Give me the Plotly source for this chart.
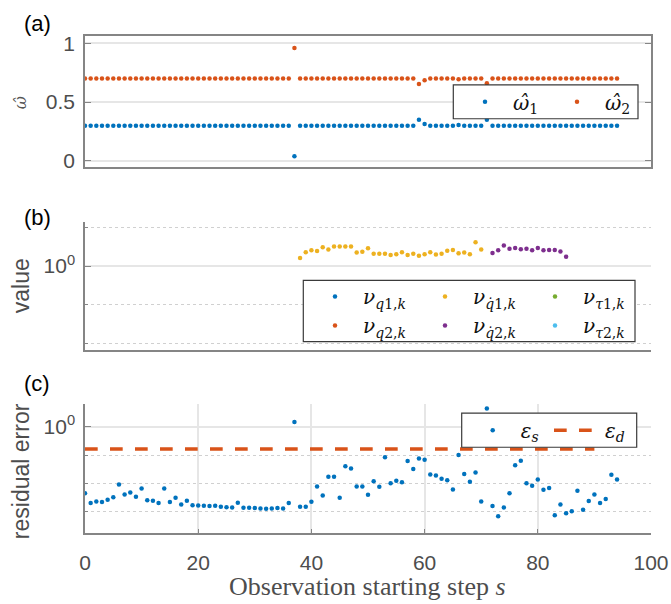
import plotly.graph_objects as go

# ---------------- data ----------------
steps = list(range(95))

omega1 = [0.30, 0.30, 0.30, 0.30, 0.30, 0.30, 0.30, 0.30, 0.30, 0.30,
          0.30, 0.30, 0.30, 0.30, 0.30, 0.30, 0.30, 0.30, 0.30, 0.30,
          0.30, 0.30, 0.30, 0.30, 0.30, 0.30, 0.30, 0.30, 0.30, 0.30,
          0.30, 0.30, 0.30, 0.30, 0.30, 0.30, 0.30, 0.04, 0.30, 0.30,
          0.30, 0.30, 0.30, 0.30, 0.30, 0.30, 0.30, 0.30, 0.30, 0.30,
          0.30, 0.30, 0.30, 0.30, 0.30, 0.30, 0.30, 0.30, 0.30, 0.35,
          0.315, 0.30, 0.30, 0.30, 0.30, 0.30, 0.305, 0.30, 0.30, 0.30,
          0.30, 0.35, 0.30, 0.30, 0.30, 0.30, 0.30, 0.30, 0.30, 0.30,
          0.30, 0.30, 0.30, 0.30, 0.30, 0.30, 0.30, 0.30, 0.30, 0.30,
          0.30, 0.30, 0.30, 0.30, 0.30]
omega2 = [0.70, 0.70, 0.70, 0.70, 0.70, 0.70, 0.70, 0.70, 0.70, 0.70,
          0.70, 0.70, 0.70, 0.70, 0.70, 0.70, 0.70, 0.70, 0.70, 0.70,
          0.70, 0.70, 0.70, 0.70, 0.70, 0.70, 0.70, 0.70, 0.70, 0.70,
          0.70, 0.70, 0.70, 0.70, 0.70, 0.70, 0.70, 0.96, 0.70, 0.70,
          0.70, 0.70, 0.70, 0.70, 0.70, 0.70, 0.70, 0.70, 0.70, 0.70,
          0.70, 0.70, 0.70, 0.70, 0.70, 0.70, 0.70, 0.70, 0.70, 0.655,
          0.685, 0.70, 0.70, 0.70, 0.70, 0.70, 0.695, 0.70, 0.70, 0.70,
          0.70, 0.66, 0.70, 0.70, 0.70, 0.70, 0.70, 0.70, 0.70, 0.70,
          0.70, 0.70, 0.70, 0.70, 0.70, 0.70, 0.70, 0.70, 0.70, 0.70,
          0.70, 0.70, 0.70, 0.70, 0.70]

nu_qd1_steps = list(range(38, 71))
nu_qd1 = [1.62, 2.29, 2.57, 2.45, 3.09, 2.69, 3.24, 3.24, 3.24, 3.24,
          2.24, 2.34, 2.88, 2.09, 2.09, 2.09, 1.95, 2.04, 2.29, 1.95,
          2.09, 1.86, 2.04, 2.29, 2.00, 2.09, 2.51, 2.63, 2.14, 2.24,
          2.04, 4.17, 2.69]
nu_qd2_steps = list(range(72, 86))
nu_qd2 = [2.19, 2.57, 3.39, 2.82, 2.95, 2.75, 2.82, 2.57, 2.95, 2.57,
          2.63, 2.63, 2.40, 1.74]

eps_s = [4.37e-3, 2.00e-3, 2.24e-3, 2.14e-3, 2.57e-3, 3.16e-3, 8.91e-3, 3.98e-3, 4.68e-3, 3.31e-3,
         6.46e-3, 2.51e-3, 2.40e-3, 2.00e-3, 6.46e-3, 2.14e-3, 3.02e-3, 1.74e-3, 2.40e-3, 1.66e-3,
         1.62e-3, 1.58e-3, 1.55e-3, 1.58e-3, 1.45e-3, 1.41e-3, 1.38e-3, 2.04e-3, 1.35e-3, 1.35e-3,
         1.32e-3, 1.26e-3, 1.23e-3, 1.26e-3, 1.32e-3, 1.26e-3, 2.00e-3, 1.48, 1.45e-3, 1.45e-3,
         2.19e-3, 7.59e-3, 3.63e-3, 1.70e-2, 1.70e-2, 3.02e-3, 3.98e-2, 3.31e-2, 7.59e-3, 7.59e-3,
         3.89e-3, 1.17e-2, 7.41e-3, 8.32e-2, 1.00e-2, 1.23e-2, 1.07e-2, 6.17e-2, 3.16e-2, 7.59e-2,
         6.76e-2, 2.04e-2, 1.86e-2, 1.45e-2, 1.26e-2, 6.03e-3, 1.00e-1, 2.14e-2, 1.12e-2, 2.40e-2,
         2.24e-3, 4.47, 1.55e-3, 6.76e-4, 1.38e-3, 4.37e-3, 4.37e-2, 6.31e-2, 1.00e-2, 8.13e-3,
         1.35e-2, 5.89e-3, 6.76e-3, 7.24e-4, 1.74e-3, 8.51e-4, 1.02e-3, 5.37e-3, 1.15e-3, 2.34e-3,
         3.98e-3, 2.00e-3, 2.75e-3, 2.00e-2, 1.35e-2]
eps_d_steps = [0, 90]
eps_d = [0.162, 0.162]

x_ticks = [0, 20, 40, 60, 80, 100]

# ---------------- styling ----------------
W, H = 671, 604
ML, MR = 85, 20
PW = W - ML - MR

def px(x):
    return (x - ML) / PW

def py(y):
    return 1 - y / H

BLUE, ORANGE, YELLOW = "#0072BD", "#D95319", "#EDB120"
PURPLE, GREEN, CYAN = "#7E2F8E", "#77AC30", "#4DBEEE"
AXC = "#858585"
GRID = "#e6e6e6"
MINORGRID = "#d0d0d0"
TICKFONT = dict(family="Liberation Sans, Arial, sans-serif", size=21, color="#4d4d4d")
SERIF = "Liberation Serif, Times New Roman, serif"
MATH = "DejaVu Serif, serif"
LEGFONT = dict(family=MATH, size=20, color="#111111")
MS = 4.5

fig = go.Figure()

# panel (a)
fig.add_trace(go.Scatter(x=steps, y=omega1, mode="markers", marker=dict(color=BLUE, size=MS),
                         name="<i>ω̂</i><sub>1</sub>", xaxis="x", yaxis="y", legend="legend"))
fig.add_trace(go.Scatter(x=steps, y=omega2, mode="markers", marker=dict(color=ORANGE, size=MS),
                         name="<i>ω̂</i><sub>2</sub>", xaxis="x", yaxis="y", legend="legend2"))

# panel (b)
fig.add_trace(go.Scatter(x=[None], y=[None], mode="markers", marker=dict(color=BLUE, size=MS),
                         name="<i>ν</i><sub><i>q</i>1,<i>k</i></sub>", xaxis="x2", yaxis="y2", legend="legend3"))
fig.add_trace(go.Scatter(x=[None], y=[None], mode="markers", marker=dict(color=ORANGE, size=MS),
                         name="<i>ν</i><sub><i>q</i>2,<i>k</i></sub>", xaxis="x2", yaxis="y2", legend="legend3"))
fig.add_trace(go.Scatter(x=nu_qd1_steps, y=nu_qd1, mode="markers", marker=dict(color=YELLOW, size=MS),
                         name="<i>ν</i><sub><i>q̇</i>1,<i>k</i></sub>", xaxis="x2", yaxis="y2", legend="legend4"))
fig.add_trace(go.Scatter(x=nu_qd2_steps, y=nu_qd2, mode="markers", marker=dict(color=PURPLE, size=MS),
                         name="<i>ν</i><sub><i>q̇</i>2,<i>k</i></sub>", xaxis="x2", yaxis="y2", legend="legend4"))
fig.add_trace(go.Scatter(x=[None], y=[None], mode="markers", marker=dict(color=GREEN, size=MS),
                         name="<i>ν</i><sub><i>τ</i>1,<i>k</i></sub>", xaxis="x2", yaxis="y2", legend="legend5"))
fig.add_trace(go.Scatter(x=[None], y=[None], mode="markers", marker=dict(color=CYAN, size=MS),
                         name="<i>ν</i><sub><i>τ</i>2,<i>k</i></sub>", xaxis="x2", yaxis="y2", legend="legend5"))

# panel (c)
fig.add_trace(go.Scatter(x=steps, y=eps_s, mode="markers", marker=dict(color=BLUE, size=MS),
                         name="<i>ε</i><sub><i>s</i></sub>", xaxis="x3", yaxis="y3", legend="legend6"))
fig.add_trace(go.Scatter(x=eps_d_steps, y=eps_d, mode="lines",
                         line=dict(color=ORANGE, width=3.5, dash="12.7px,12.3px"),
                         name="<i>ε</i><sub><i>d</i></sub>", xaxis="x3", yaxis="y3", legend="legend7"))

# ---------------- axes ----------------
dom_a = [py(165.3), py(32.7)]
dom_b = [py(352.3), py(221.7)]
dom_c = [py(538.3), py(406.7)]

common_x = dict(range=[0, 100], domain=[0, 1], showline=True, linecolor=AXC, linewidth=1.5,
                zeroline=False, tickfont=TICKFONT)

fig.update_layout(
    xaxis=dict(**common_x, anchor="y", mirror=True, showticklabels=False, ticks="", showgrid=False),
    yaxis=dict(domain=dom_a, range=[-0.048, 1.061], tickvals=[0, 0.5, 1], ticktext=["0", "0.5", "1"],
               showline=True, linecolor=AXC, linewidth=1.5, mirror="ticks", ticks="inside",
               ticklen=6, tickcolor=AXC, tickwidth=1.2, showgrid=True, gridcolor=GRID, gridwidth=1.5,
               zeroline=False, tickfont=TICKFONT, ticklabelstandoff=4, anchor="x"),
    xaxis2=dict(**common_x, anchor="y2", showticklabels=False, ticks="", showgrid=False),
    yaxis2=dict(domain=dom_b, type="log", range=[-2.18, 1.14], tickvals=[1], ticktext=["10<sup>0</sup>"],
                showline=True, linecolor=AXC, linewidth=1.5, ticks="inside", ticklen=6, tickcolor=AXC,
                tickwidth=1.2, showgrid=True, gridcolor=GRID, gridwidth=1.5, zeroline=False,
                tickfont=TICKFONT, ticklabelstandoff=4, anchor="x2",
                minor=dict(tickvals=[0.01, 0.1, 10], ticks="inside", ticklen=3, tickcolor=AXC,
                           showgrid=True, gridcolor=MINORGRID, griddash="dot", gridwidth=1)),
    xaxis3=dict(**common_x, anchor="y3", tickvals=x_ticks, ticktext=[str(t) for t in x_ticks],
                ticks="inside", ticklen=5, tickcolor=AXC, showgrid=True, gridcolor=GRID, gridwidth=1.5,
                ticklabelstandoff=10),
    yaxis3=dict(domain=dom_c, type="log", range=[-3.78, 0.81], tickvals=[1], ticktext=["10<sup>0</sup>"],
                showline=True, linecolor=AXC, linewidth=1.5, ticks="inside", ticklen=6, tickcolor=AXC,
                tickwidth=1.2, showgrid=True, gridcolor=GRID, gridwidth=1.5, zeroline=False,
                tickfont=TICKFONT, ticklabelstandoff=4, anchor="x3",
                minor=dict(tickvals=[0.001, 0.01, 0.1], ticks="inside", ticklen=3, tickcolor=AXC,
                           showgrid=True, gridcolor=MINORGRID, griddash="dot", gridwidth=1)),
)

# ---------------- legends ----------------
def leg(left_px, center_px):
    return dict(x=px(left_px), y=py(center_px), xanchor="left", yanchor="middle", xref="paper", yref="paper",
                orientation="v", bgcolor="rgba(0,0,0,0)", borderwidth=0, font=LEGFONT, itemwidth=46,
                traceorder="normal")

fig.update_layout(
    legend=leg(457, 99.5),
    legend2=leg(549, 99.5),
    legend3=leg(307, 312.2),
    legend4=leg(417, 312.2),
    legend5=leg(527, 312.2),
    legend6=leg(464.7, 433.3),
    legend7=leg(549, 433.3),
)

# legend boxes
boxes = [(453.3, 82.3, 638, 116.7), (303.3, 281, 635, 343.3), (461.7, 416, 636.7, 450.7)]
shapes = []
for (x0, y0, x1, y1) in boxes:
    shapes.append(dict(type="rect", xref="paper", yref="paper", x0=px(x0), x1=px(x1), y0=py(y1), y1=py(y0),
                       fillcolor="white", line=dict(color="#3a3a3a", width=1.2), layer="above"))

# ---------------- text ----------------
ann = []
def add_text(text, x, y, size, family="Liberation Sans, Arial, sans-serif", color="#4d4d4d", angle=0):
    ann.append(dict(text=text, x=px(x), y=py(y), xref="paper", yref="paper", showarrow=False,
                    xanchor="center", yanchor="middle", textangle=angle,
                    font=dict(family=family, size=size, color=color)))

add_text("(a)", 37, 20, 22, color="#000000")
add_text("(b)", 37, 217, 22, color="#000000")
add_text("(c)", 37, 386, 22, color="#000000")
add_text("<i>ω̂</i>", 20, 101, 16, family=MATH, color="#555555", angle=-90)
add_text("value", 21, 287, 23, angle=-90)
add_text("residual error", 21, 475, 23, angle=-90)
add_text("Observation starting step <i>s</i>", 367, 592, 26, family=SERIF)

fig.update_layout(
    width=W, height=H, margin=dict(l=ML, r=MR, t=0, b=0),
    paper_bgcolor="white", plot_bgcolor="white",
    shapes=shapes, annotations=ann, showlegend=True,
)

fig.write_html("out.html", config={"displayModeBar": False},
               post_script="document.body.style.margin='0px';document.body.style.overflow='hidden';")
